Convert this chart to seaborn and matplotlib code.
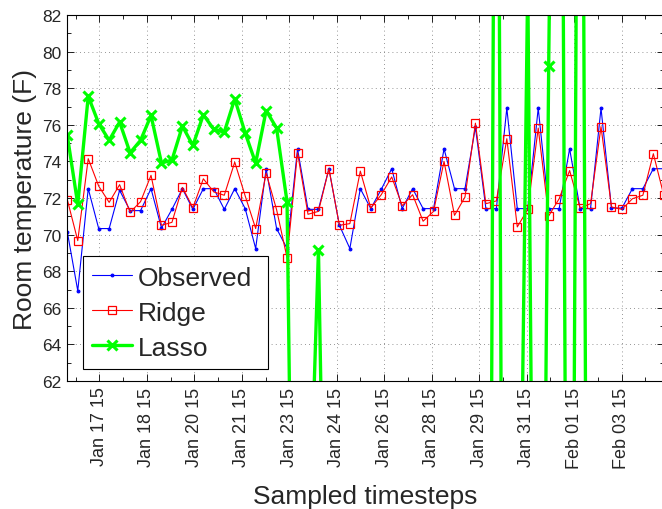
import numpy as np
import pandas as pd
import matplotlib
matplotlib.use("Agg")
import matplotlib.pyplot as plt
import seaborn as sns
from matplotlib.ticker import FixedLocator, MultipleLocator

# ---- data ----
observed = [70.15, 66.93, 72.51, 70.33, 70.33, 72.42, 71.31, 71.31, 72.51, 70.36,
            71.38, 72.51, 71.38, 72.51, 72.51, 71.38, 72.51, 71.42, 69.24, 73.60,
            70.33, 69.24, 74.69, 71.38, 71.38, 73.60, 70.51, 69.24, 72.51, 71.42,
            72.47, 73.60, 71.42, 72.51, 71.42, 71.42, 74.69, 72.51, 72.51, 75.87,
            71.42, 71.42, 76.91, 71.42, 71.42, 76.91, 71.42, 71.42, 74.69, 71.42,
            71.42, 76.91, 71.45, 71.45, 72.51, 72.51, 73.60, 73.60]
ridge = [71.91, 69.67, 74.15, 72.65, 71.76, 72.73, 71.22, 71.80, 73.24, 70.51,
         70.67, 72.58, 71.47, 73.05, 72.33, 72.15, 73.96, 72.11, 70.33, 73.36,
         71.36, 68.73, 74.47, 71.11, 71.27, 73.60, 70.51, 70.60, 73.47, 71.45,
         72.18, 73.15, 71.58, 72.18, 70.73, 71.27, 74.00, 71.05, 72.05, 76.09,
         71.69, 71.84, 75.24, 70.42, 71.38, 75.82, 71.02, 71.96, 73.50, 71.45,
         71.69, 75.90, 71.51, 71.38, 71.96, 72.15, 74.42, 72.15]
lasso = [75.42, 71.65, 77.56, 76.07, 75.15, 76.15, 74.47, 75.15, 76.51, 73.91,
         74.07, 75.93, 74.87, 76.55, 75.75, 75.60, 77.42, 75.55, 73.91, 76.78,
         75.82, 71.78, 27.0, 51.0, 69.18, 36.5, 40.0, 42.0, 38.0, 45.0,
         41.0, 39.0, 44.0, 40.0, 43.0, 37.0, 42.0, 40.0, 35.0, 30.0,
         -10.4, 120.3, -11.4, 38.6, 84.0, 14.2, 79.23, 130.0, 10.0, 126.0,
         1.0, 20.0, 25.0, 22.0, 30.0, 28.0, 24.0, 26.0]
tick_labels = ["Jan 17 15", "Jan 18 15", "Jan 20 15", "Jan 21 15", "Jan 23 15",
               "Jan 24 15", "Jan 26 15", "Jan 28 15", "Jan 29 15", "Jan 31 15",
               "Feb 01 15", "Feb 03 15"]
series_names = ["Observed", "Ridge", "Lasso"]

# ---- style ----
sns.set_theme(style="white")
plt.rcParams['font.family'] = ['Liberation Sans', 'DejaVu Sans']

fig = plt.figure(figsize=(6.62, 5.10), dpi=100)
ax = fig.add_axes([67.3 / 662, 128 / 510, 596.5 / 662, 366 / 510])

steps = np.arange(len(observed))
df = pd.DataFrame({"step": steps, "Observed": observed, "Ridge": ridge, "Lasso": lasso})

sns.lineplot(data=df, x="step", y="Observed", ax=ax, color=(0, 0, 1), lw=0.8,
             marker='.', markersize=4, mec=(0, 0, 1), mew=0.8, label=series_names[0])
sns.lineplot(data=df, x="step", y="Ridge", ax=ax, color=(1, 0, 0), lw=0.8,
             marker='s', markersize=6, mfc='none', mec=(1, 0, 0), mew=0.9,
             label=series_names[1])
sns.lineplot(data=df, x="step", y="Lasso", ax=ax, color=(0, 1, 0), lw=2.4,
             marker='x', markersize=7, mec=(0, 1, 0), mew=2.2, label=series_names[2])

ax.set_xlim(0, len(observed) - 1)
ax.set_ylim(62, 82)

tick_start, tick_step = 3.058, 4.538
major_pos = tick_start + tick_step * np.arange(len(tick_labels))
minor_pos = np.concatenate([[tick_start - tick_step / 2], major_pos + tick_step / 2])
ax.xaxis.set_major_locator(FixedLocator(major_pos))
ax.xaxis.set_minor_locator(FixedLocator(minor_pos))
ax.set_xticklabels(tick_labels, rotation=90, fontsize=13)
ax.yaxis.set_major_locator(MultipleLocator(2))
ax.yaxis.set_minor_locator(MultipleLocator(1))
ax.tick_params(axis='y', labelsize=12.5)

ax.tick_params(which='both', direction='in', top=True, right=True, bottom=True, left=True,
               color='black', width=0.6)
ax.tick_params(which='major', length=5, pad=4)
ax.tick_params(which='minor', length=3)

ax.grid(True, which='major', color='0.45', linestyle=(0, (1, 4)), linewidth=0.6)
for s in ax.spines.values():
    s.set_color('black')
    s.set_linewidth(0.8)
    s.set_visible(True)

ax.set_xlabel("Sampled timesteps", fontsize=19, labelpad=12)
ax.set_ylabel("Room temperature (F)", fontsize=19, labelpad=4)

leg = ax.legend(loc='lower left', bbox_to_anchor=(0.026, 0.033, 185 / 596.5, 0),
                mode='expand', fontsize=19,
                frameon=True, fancybox=False, edgecolor='black', framealpha=1,
                handlelength=1.5, handletextpad=0.25, borderpad=0.35,
                labelspacing=0.42, borderaxespad=0)
leg.get_frame().set_linewidth(0.8)

fig.savefig("out.png", dpi=100)
